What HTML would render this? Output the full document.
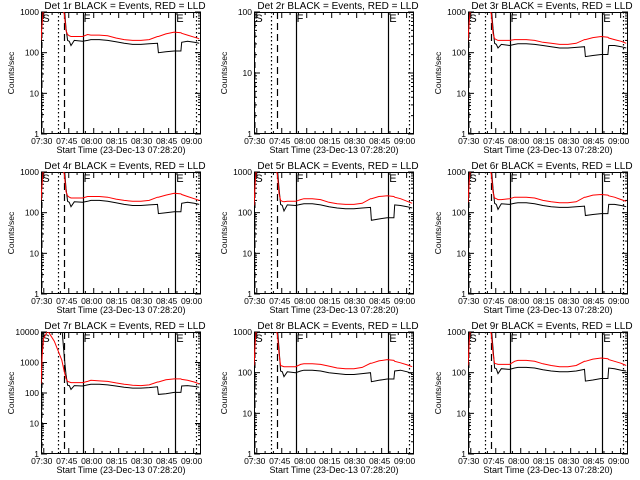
<!DOCTYPE html>
<html><head><meta charset="utf-8"><style>
html,body{margin:0;padding:0;background:#fff;}
svg{display:block;}
text{font-family:"Liberation Sans",sans-serif;fill:#000;}
</style></head><body>
<svg id="chart" width="640" height="480" viewBox="0 0 640 480" xmlns="http://www.w3.org/2000/svg">
<rect width="640" height="480" fill="#fff"/>
</svg>
<script>
// minutes since 07:28:20
const times = [0,0.8,1.5,4,8,12.5,14,15,16,17,18,20,25,28,30,35,40,45,50,55,60,65,70,70.5,75,80,84,84.5,88,92,95];
const panelTitles = ["Det 1r","Det 2r","Det 3r","Det 4r","Det 5r","Det 6r","Det 7r","Det 8r","Det 9r"];
const panelDecades = [3,2,3,3,3,3,4,3,3];
const blackP1 = [200,1500,2000,2000,2000,2000,1500,400,200,190,150,200,190,200,210,210,200,185,170,160,160,165,170,100,105,110,110,180,190,180,170];
const redP1   = [200,600,2000,2000,2000,2000,900,350,280,260,250,250,250,280,270,270,260,230,210,200,200,210,250,250,290,320,310,300,270,240,220];
const blackP2 = [];
const redP2   = [];
const blackP3 = [200,1500,2000,2000,2000,2000,1500,400,170,160,130,160,150,160,165,165,160,150,140,130,130,135,140,80,85,90,90,150,150,140,130];
const redP3   = [200,600,2000,2000,2000,2000,900,300,220,210,200,200,200,210,210,210,200,180,170,160,160,170,210,210,235,250,240,230,210,190,170];
const blackP4 = [200,1500,2000,2000,2000,2000,1500,400,190,180,140,185,180,190,200,200,190,175,160,150,150,155,160,95,100,105,105,170,180,170,160];
const redP4   = [200,600,2000,2000,2000,2000,900,330,260,240,230,230,230,250,250,250,240,215,200,190,190,200,240,240,270,300,290,280,250,220,200];
const blackP5 = [150,1500,2000,2000,2000,2000,1500,400,160,150,110,155,150,160,165,165,155,140,130,125,125,130,135,65,70,75,75,155,150,140,130];
const redP5   = [150,600,2000,2000,2000,2000,900,300,200,190,185,190,190,210,220,220,210,180,165,160,160,170,220,220,250,260,250,240,220,190,170];
const blackP6 = [180,1500,2000,2000,2000,2000,1500,400,170,160,120,165,160,170,175,175,165,150,140,135,135,140,145,85,90,95,95,160,160,150,140];
const redP6   = [180,600,2000,2000,2000,2000,900,320,230,220,210,210,220,240,240,240,230,200,185,175,175,185,240,240,270,280,270,260,240,210,190];
const blackP7 = [150,20000,20000,20000,20000,20000,1500,400,180,175,130,175,170,185,195,195,185,170,155,145,145,150,160,90,95,105,105,170,175,165,155];
const redP7   = [200,2000,6000,11000,5000,1200,500,300,240,230,220,220,220,240,260,250,240,215,195,180,175,185,230,230,270,290,290,280,260,230,200];
const blackP8 = [150,1500,2000,2000,2000,2000,1500,400,110,105,80,105,100,110,115,115,110,100,95,90,90,95,100,60,65,70,70,110,115,105,95];
const redP8   = [150,600,2000,2000,2000,2000,900,300,150,145,140,140,140,160,165,165,160,145,130,125,125,135,170,170,195,210,200,190,175,155,140];
const blackP9 = [150,1500,2000,2000,2000,2000,1500,400,130,125,95,125,120,130,135,135,130,118,110,105,105,110,120,62,66,72,72,130,125,115,110];
const redP9   = [150,600,2000,2000,2000,2000,900,300,170,165,160,160,160,190,200,200,190,165,150,140,140,150,190,190,215,230,220,210,190,170,150];
const blackSeries = [blackP1,blackP2,blackP3,blackP4,blackP5,blackP6,blackP7,blackP8,blackP9];
const redSeries = [redP1,redP2,redP3,redP4,redP5,redP6,redP7,redP8,redP9];
const xTickLabels = ["07:30","07:45","08:00","08:15","08:30","08:45","09:00"];
const xTickMinutes = [1.667,16.667,31.667,46.667,61.667,76.667,91.667];
const markerMinutes = [10.5,14,25,80.5,93];
const markerStyles = ["dot","dash","solid","solid","dot"];

const NS="http://www.w3.org/2000/svg";
const svg=document.getElementById('chart');
function mk(tag,attrs,parent){const e=document.createElementNS(NS,tag);for(const k in attrs)e.setAttribute(k,attrs[k]);(parent||svg).appendChild(e);return e;}
const W=160,H=122,TMAX=96.1;

for(let p=0;p<9;p++){
  const col=p%3,row=Math.floor(p/3);
  const L=Math.round(col*213.33)+41, T=row*160+12, B=T+H, R=L+W;
  const dec=panelDecades[p];
  const xs=m=>L+m/TMAX*W;
  const ys=v=>B-Math.log10(v)/dec*H;
  const g=mk('g',{});
  
  
  const cid='clip'+p;
  const cp=mk('clipPath',{id:cid},g);mk('rect',{x:L,y:T,width:W,height:H},cp);
  const tt=mk('text',{x:(L+R)/2+4,y:row*160+9,'font-size':'10','text-anchor':'middle'},g);
  tt.textContent=panelTitles[p]+" BLACK = Events, RED = LLD";
  
  
  const box=mk('rect',{x:L+0.5,y:T+0.5,width:W-1,height:H-1,fill:'none',stroke:'#000','stroke-width':1},g);
  
  
  for(let d=0;d<=dec;d++){
    const y=ys(Math.pow(10,d));
    mk('line',{x1:L,x2:L+6,y1:y,y2:y,stroke:'#000'},g);
    mk('line',{x1:R-6,x2:R,y1:y,y2:y,stroke:'#000'},g);
    const lb=mk('text',{x:L-2,y:y+3,'font-size':'8.5','text-anchor':'end'},g);
    lb.textContent=String(Math.pow(10,d));
    
    
    if(d<dec)for(let k=2;k<10;k++){const yy=ys(k*Math.pow(10,d));
      mk('line',{x1:L,x2:L+3,y1:yy,y2:yy,stroke:'#000'},g);mk('line',{x1:R-3,x2:R,y1:yy,y2:yy,stroke:'#000'},g);}
  }
  for(let i=0;i<xTickMinutes.length;i++){
    const x=xs(xTickMinutes[i]);
    mk('line',{x1:x,x2:x,y1:B,y2:B-6,stroke:'#000'},g);
    mk('line',{x1:x,x2:x,y1:T,y2:T+6,stroke:'#000'},g);
    for(let k=1;k<3;k++){const xm=xs(xTickMinutes[i]+5*k);if(xm<R){mk('line',{x1:xm,x2:xm,y1:B,y2:B-3,stroke:'#000'},g);mk('line',{x1:xm,x2:xm,y1:T,y2:T+3,stroke:'#000'},g);}}
    const lb=mk('text',{x:x-2,y:B+10,'font-size':'8.5','text-anchor':'middle'},g);
    lb.textContent=xTickLabels[i];
    
    
  }
  const xl=mk('text',{x:(L+R)/2,y:B+19,'font-size':'9','text-anchor':'middle'},g);
  xl.textContent="Start Time (23-Dec-13 07:28:20)";
  
  
  const yl=mk('text',{x:0,y:0,'font-size':'8.5','text-anchor':'middle',transform:`translate(${L-27},${(T+B)/2}) rotate(-90)`},g);
  yl.textContent="Counts/sec";
  
  
  const ld=mk('line',{x1:xs(0.6),x2:xs(0.6),y1:T,y2:B,stroke:'#000','stroke-dasharray':'6,4'},g);
  
  
  for(let i=0;i<markerMinutes.length;i++){
    const x=Math.round(xs(markerMinutes[i]))+0.5;
    const a={x1:x,x2:x,y1:T,y2:B,stroke:'#000','stroke-width':1.2};
    if(markerStyles[i]==='dot')a['stroke-dasharray']='1.5,2.5';
    if(markerStyles[i]==='dash')a['stroke-dasharray']='7,4';
    const ml=mk('line',a,g);
    
    
  }
  [["S",0.8],["F",25.6],["E",81.2]].forEach(([s,m])=>{
    const t=mk('text',{x:xs(m),y:T+10,'font-size':'11'},g);t.textContent=s;
    
    
  });
  const cg=mk('g',{'clip-path':`url(#${cid})`},g);
  [[blackSeries[p],'#000','events-line'],[redSeries[p],'#ff0000','lld-line']].forEach(([vals,c,nm])=>{
    if(!vals.length)return;
    const pts=vals.map((v,i)=>xs(times[i]).toFixed(1)+','+Math.max(T-5,ys(v)).toFixed(1)).join(' ');
    const pl=mk('polyline',{points:pts,fill:'none',stroke:c,'stroke-width':1},cg);
    
    
  });
}
</script>
</body></html>
